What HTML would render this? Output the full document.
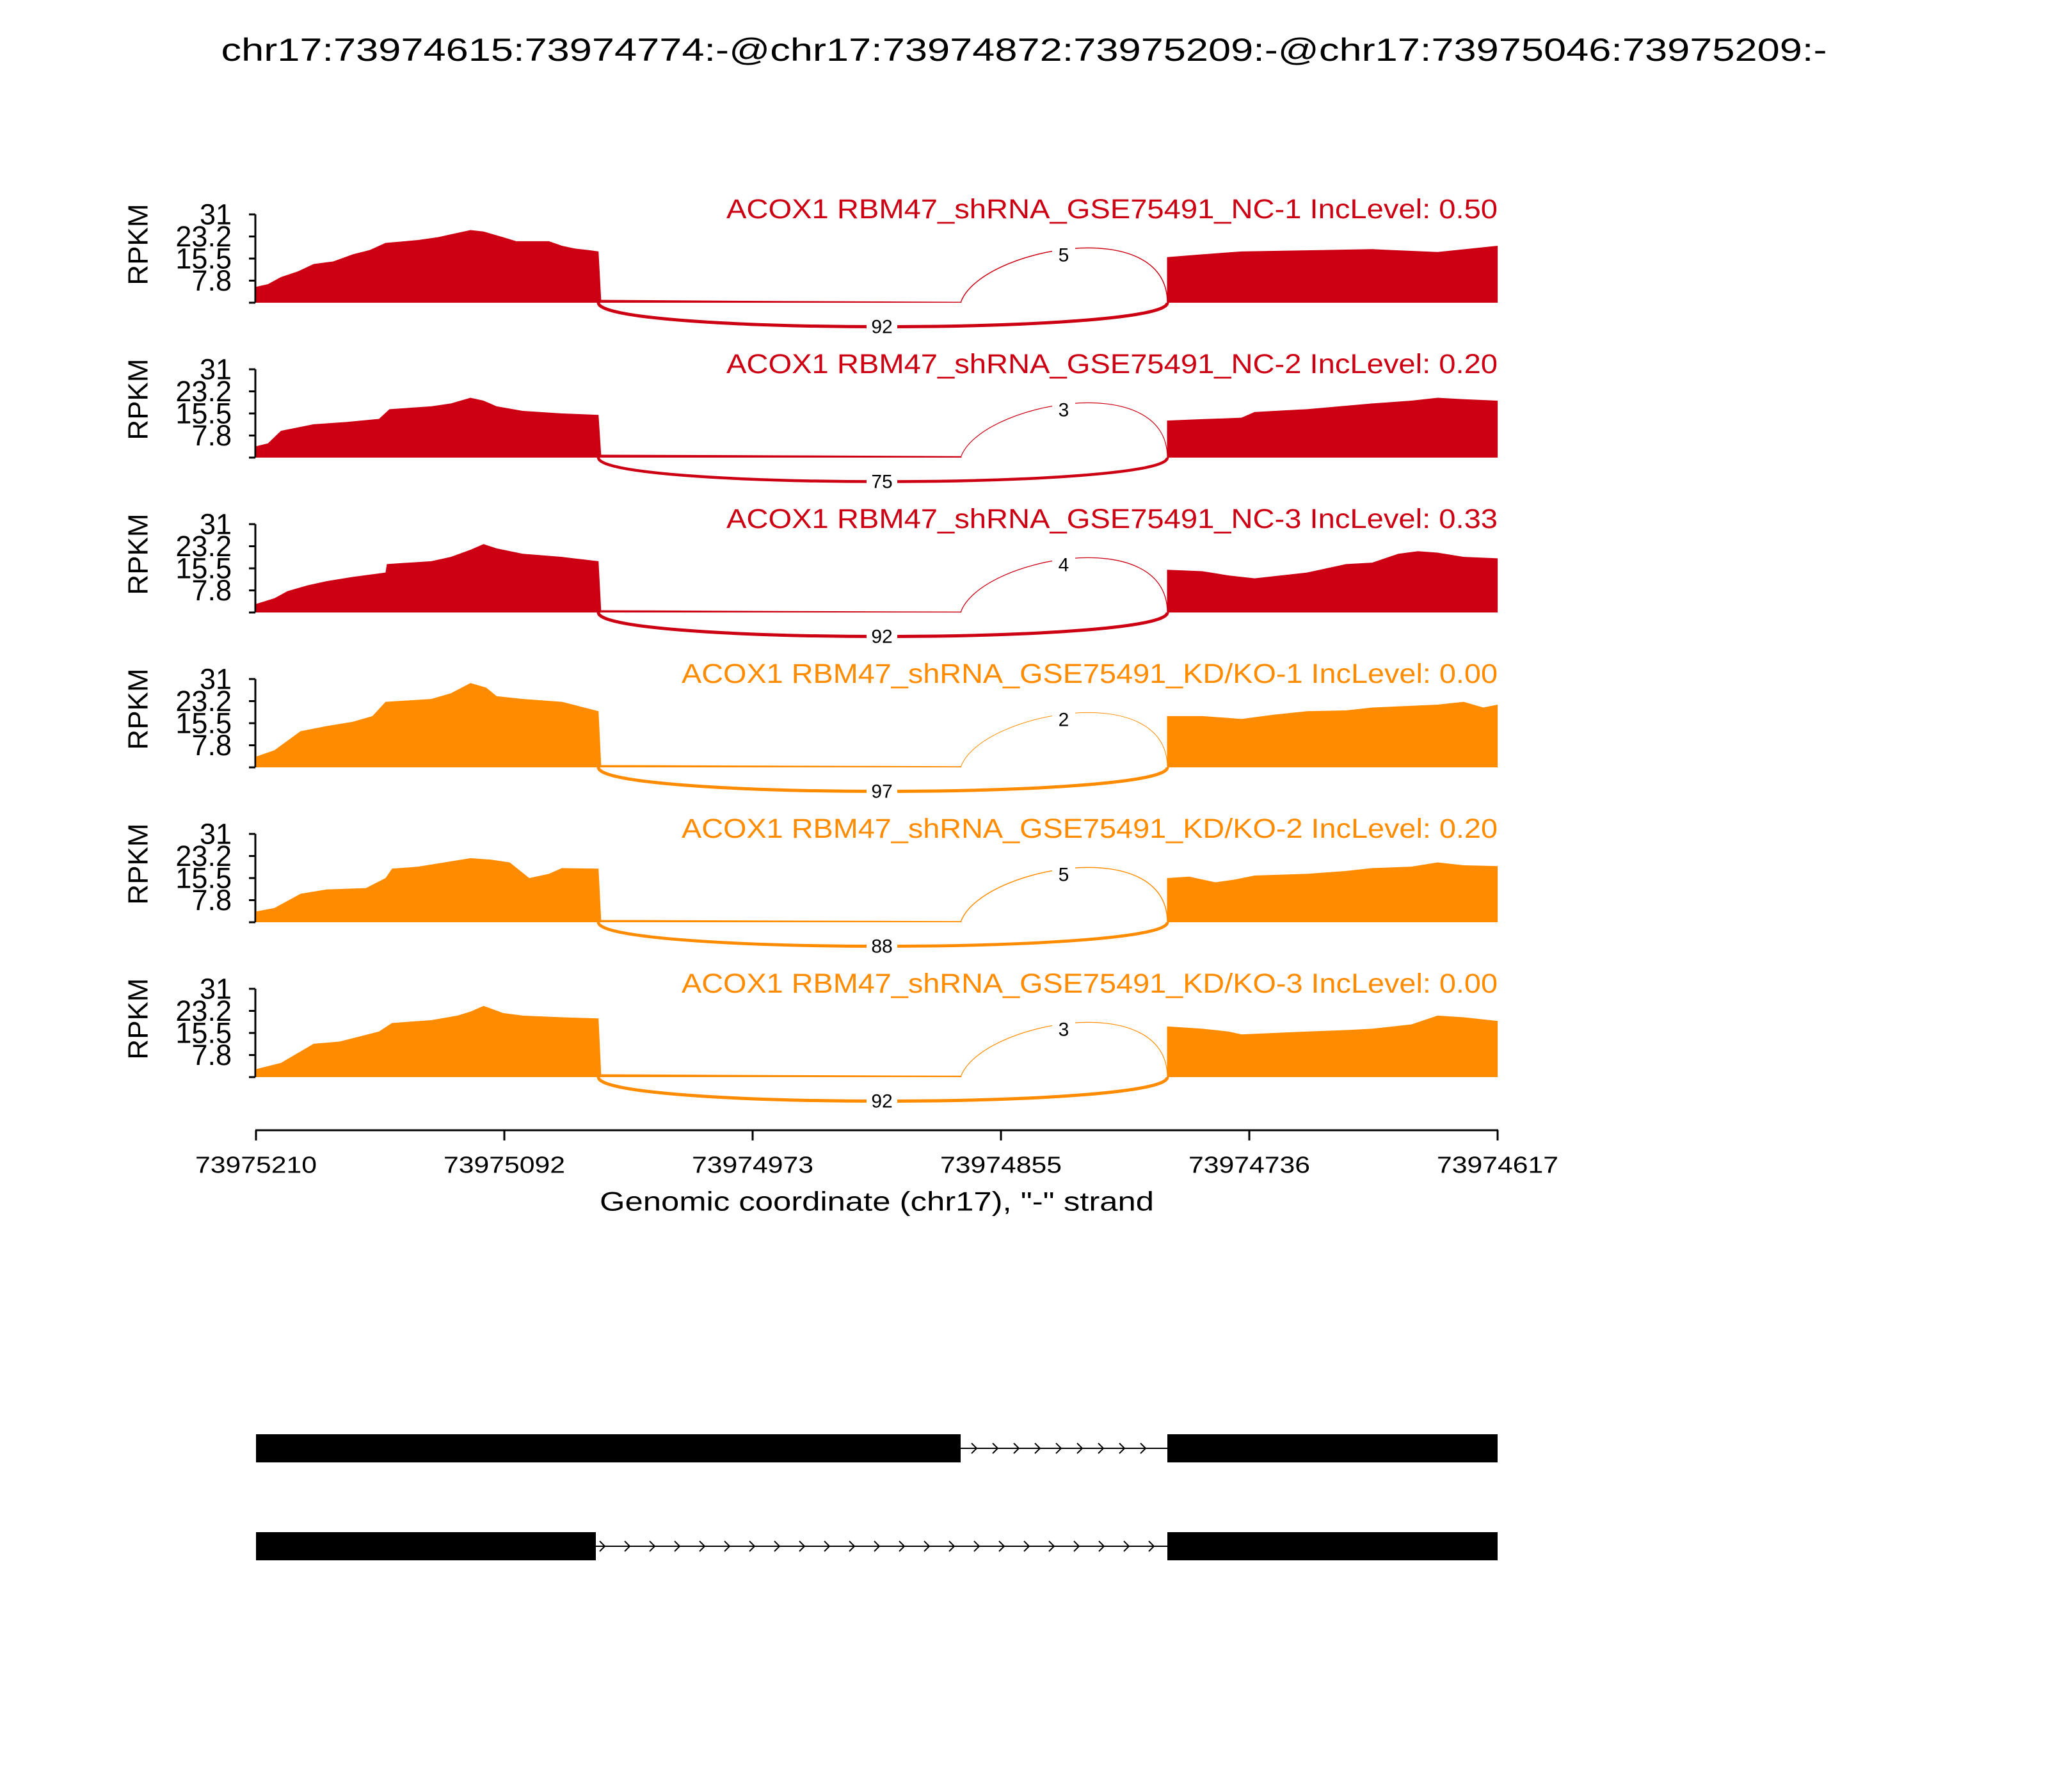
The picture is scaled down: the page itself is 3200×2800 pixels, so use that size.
<!DOCTYPE html>
<html><head><meta charset="utf-8"><style>
html,body{margin:0;padding:0;background:#fff}
svg{display:block}
text{font-family:"Liberation Sans","DejaVu Sans",sans-serif}
</style></head><body>
<svg width="3200" height="2800" viewBox="0 0 3200 2800" xmlns="http://www.w3.org/2000/svg">
<rect width="3200" height="2800" fill="#fff"/>
<text x="1600" y="78" font-size="50" text-anchor="middle" dominant-baseline="central" textLength="2509" lengthAdjust="spacingAndGlyphs">chr17:73974615:73974774:-@chr17:73974872:73975209:-@chr17:73975046:73975209:-</text>

<defs>
<g id="yaxis">
 <line x1="399" y1="-138" x2="399" y2="0" stroke="#000" stroke-width="3"/>
 <path d="M389,-138H399M389,-103.5H399M389,-69H399M389,-34.5H399M389,0H399" stroke="#000" stroke-width="3"/>
 <g font-size="45" text-anchor="end" dominant-baseline="central">
  <text x="362" y="-138">31</text><text x="362" y="-103.5">23.2</text><text x="362" y="-69">15.5</text><text x="362" y="-34.5">7.8</text>
 </g>
 <text transform="translate(216,-91) rotate(-90)" font-size="44" text-anchor="middle" dominant-baseline="central">RPKM</text>
</g>
</defs>

<!-- Panel 1 -->
<g transform="translate(0,473)">
 <use href="#yaxis"/>
 <polygon fill="#cc0012" transform="scale(2.042,4.452)" points="196,0 196,-5.6 205,-6.5 215,-9 228,-11 240,-13.6 255,-14.5 270,-17 283,-18.5 295,-21 320,-22 335,-23 345,-24 360,-25.5 370,-25 385,-23 395,-21.6 410,-21.6 420,-21.6 430,-20 440,-19 450,-18.5 458,-18 460,-1 600,-0.6 735,-0.3 736,0 893,0 893,-16 920,-17 950,-18 1000,-18.4 1050,-18.8 1100,-17.8 1146,-20 1146,0"/>
 <path d="M935,0 C935,50 1824,50 1824,0" fill="none" stroke="#cc0012" stroke-width="5"/>
 <path d="M1501,0 C1530,-85 1824,-140 1824,0" fill="none" stroke="#cc0012" stroke-width="1.5"/>
 <rect x="1354" y="20" width="48" height="36" fill="#fff"/><text x="1378" y="38" font-size="30" text-anchor="middle" dominant-baseline="central">92</text>
 <rect x="1644" y="-92" width="36" height="36" fill="#fff"/><text x="1662" y="-74" font-size="30" text-anchor="middle" dominant-baseline="central">5</text>
 <text x="2340" y="-146" font-size="43" fill="#cc0012" text-anchor="end" dominant-baseline="central" textLength="1205" lengthAdjust="spacingAndGlyphs">ACOX1 RBM47_shRNA_GSE75491_NC-1 IncLevel: 0.50</text>
</g>

<!-- Panel 2 -->
<g transform="translate(0,715)">
 <use href="#yaxis"/>
 <polygon fill="#cc0012" transform="scale(2.042,4.452)" points="196,0 196,-4 205,-5 215,-9.4 240,-11.7 265,-12.5 290,-13.6 298,-17 330,-18 345,-19 360,-21 370,-20 380,-18 400,-16.4 430,-15.5 458,-15 460,-1 600,-0.8 735,-0.5 736,0 893,0 893,-13 920,-13.5 950,-14 960,-16 1000,-17 1050,-19 1080,-20 1100,-21 1120,-20.5 1146,-20 1146,0"/>
 <path d="M935,0 C935,50 1824,50 1824,0" fill="none" stroke="#cc0012" stroke-width="4.5"/>
 <path d="M1501,0 C1530,-85 1824,-140 1824,0" fill="none" stroke="#cc0012" stroke-width="1.2"/>
 <rect x="1354" y="20" width="48" height="36" fill="#fff"/><text x="1378" y="38" font-size="30" text-anchor="middle" dominant-baseline="central">75</text>
 <rect x="1644" y="-92" width="36" height="36" fill="#fff"/><text x="1662" y="-74" font-size="30" text-anchor="middle" dominant-baseline="central">3</text>
 <text x="2340" y="-146" font-size="43" fill="#cc0012" text-anchor="end" dominant-baseline="central" textLength="1205" lengthAdjust="spacingAndGlyphs">ACOX1 RBM47_shRNA_GSE75491_NC-2 IncLevel: 0.20</text>
</g>

<!-- Panel 3 -->
<g transform="translate(0,957)">
 <use href="#yaxis"/>
 <polygon fill="#cc0012" transform="scale(2.042,4.452)" points="196,0 196,-3 210,-5 220,-7.5 235,-9.5 250,-11 270,-12.5 295,-14 296,-17 330,-18 345,-19.5 360,-22 370,-24 380,-22.5 400,-20.6 430,-19.5 458,-18 460,-0.8 600,-0.5 735,-0.3 736,0 893,0 893,-15 920,-14.5 940,-13 960,-12 980,-13 1000,-14 1030,-17 1050,-17.5 1070,-20.6 1085,-21.5 1100,-21 1120,-19.5 1146,-19 1146,0"/>
 <path d="M935,0 C935,50 1824,50 1824,0" fill="none" stroke="#cc0012" stroke-width="5"/>
 <path d="M1501,0 C1530,-85 1824,-140 1824,0" fill="none" stroke="#cc0012" stroke-width="1.3"/>
 <rect x="1354" y="20" width="48" height="36" fill="#fff"/><text x="1378" y="38" font-size="30" text-anchor="middle" dominant-baseline="central">92</text>
 <rect x="1644" y="-92" width="36" height="36" fill="#fff"/><text x="1662" y="-74" font-size="30" text-anchor="middle" dominant-baseline="central">4</text>
 <text x="2340" y="-146" font-size="43" fill="#cc0012" text-anchor="end" dominant-baseline="central" textLength="1205" lengthAdjust="spacingAndGlyphs">ACOX1 RBM47_shRNA_GSE75491_NC-3 IncLevel: 0.33</text>
</g>

<!-- Panel 4 -->
<g transform="translate(0,1199)">
 <use href="#yaxis"/>
 <polygon fill="#ff8c00" transform="scale(2.042,4.452)" points="196,0 196,-3.8 210,-6 230,-12.7 250,-14.5 270,-16 285,-18 295,-23 330,-24 345,-26 360,-29.6 372,-28 380,-25 400,-24 430,-23 458,-19.7 460,-0.8 600,-0.6 735,-0.4 736,0 893,0 893,-18 920,-18 950,-17 975,-18.5 1000,-19.7 1030,-20 1050,-21 1075,-21.5 1100,-22 1120,-23 1135,-21 1146,-22 1146,0"/>
 <path d="M935,0 C935,50 1824,50 1824,0" fill="none" stroke="#ff8c00" stroke-width="5"/>
 <path d="M1501,0 C1530,-85 1824,-140 1824,0" fill="none" stroke="#ff8c00" stroke-width="1"/>
 <rect x="1354" y="20" width="48" height="36" fill="#fff"/><text x="1378" y="38" font-size="30" text-anchor="middle" dominant-baseline="central">97</text>
 <rect x="1644" y="-92" width="36" height="36" fill="#fff"/><text x="1662" y="-74" font-size="30" text-anchor="middle" dominant-baseline="central">2</text>
 <text x="2340" y="-146" font-size="43" fill="#ff8c00" text-anchor="end" dominant-baseline="central" textLength="1275" lengthAdjust="spacingAndGlyphs">ACOX1 RBM47_shRNA_GSE75491_KD/KO-1 IncLevel: 0.00</text>
</g>

<!-- Panel 5 -->
<g transform="translate(0,1441)">
 <use href="#yaxis"/>
 <polygon fill="#ff8c00" transform="scale(2.042,4.452)" points="196,0 196,-3.8 210,-5 230,-10 250,-11.5 280,-12 295,-15.5 300,-18.8 320,-19.5 340,-21 360,-22.5 375,-22 390,-21 405,-15.5 420,-17 430,-19 458,-18.8 460,-0.8 600,-0.6 735,-0.4 736,0 893,0 893,-15.5 910,-16 930,-14 945,-15 960,-16.4 1000,-17 1030,-18 1050,-19 1080,-19.5 1100,-21 1120,-20 1146,-19.7 1146,0"/>
 <path d="M935,0 C935,50 1824,50 1824,0" fill="none" stroke="#ff8c00" stroke-width="4.8"/>
 <path d="M1501,0 C1530,-85 1824,-140 1824,0" fill="none" stroke="#ff8c00" stroke-width="1.5"/>
 <rect x="1354" y="20" width="48" height="36" fill="#fff"/><text x="1378" y="38" font-size="30" text-anchor="middle" dominant-baseline="central">88</text>
 <rect x="1644" y="-92" width="36" height="36" fill="#fff"/><text x="1662" y="-74" font-size="30" text-anchor="middle" dominant-baseline="central">5</text>
 <text x="2340" y="-146" font-size="43" fill="#ff8c00" text-anchor="end" dominant-baseline="central" textLength="1275" lengthAdjust="spacingAndGlyphs">ACOX1 RBM47_shRNA_GSE75491_KD/KO-2 IncLevel: 0.20</text>
</g>

<!-- Panel 6 -->
<g transform="translate(0,1683)">
 <use href="#yaxis"/>
 <polygon fill="#ff8c00" transform="scale(2.042,4.452)" points="196,0 196,-2.8 215,-5 240,-11.7 260,-12.5 290,-16 300,-19 330,-20 350,-21.6 360,-23 370,-25 385,-22.5 400,-21.6 430,-21 458,-20.6 460,-1 600,-0.7 735,-0.5 736,0 893,0 893,-17.8 920,-17 940,-16 950,-15 1000,-16 1030,-16.5 1050,-17 1080,-18.5 1100,-21.6 1120,-21 1146,-19.7 1146,0"/>
 <path d="M935,0 C935,50 1824,50 1824,0" fill="none" stroke="#ff8c00" stroke-width="5"/>
 <path d="M1501,0 C1530,-85 1824,-140 1824,0" fill="none" stroke="#ff8c00" stroke-width="1.2"/>
 <rect x="1354" y="20" width="48" height="36" fill="#fff"/><text x="1378" y="38" font-size="30" text-anchor="middle" dominant-baseline="central">92</text>
 <rect x="1644" y="-92" width="36" height="36" fill="#fff"/><text x="1662" y="-74" font-size="30" text-anchor="middle" dominant-baseline="central">3</text>
 <text x="2340" y="-146" font-size="43" fill="#ff8c00" text-anchor="end" dominant-baseline="central" textLength="1275" lengthAdjust="spacingAndGlyphs">ACOX1 RBM47_shRNA_GSE75491_KD/KO-3 IncLevel: 0.00</text>
</g>

<!-- X axis -->
<line x1="399" y1="1766" x2="2341" y2="1766" stroke="#000" stroke-width="3"/>
<path d="M400,1766V1782M788,1766V1782M1176,1766V1782M1564,1766V1782M1952,1766V1782M2340,1766V1782" stroke="#000" stroke-width="3"/>
<g font-size="36" text-anchor="middle" dominant-baseline="central">
 <text x="400" y="1820" textLength="190" lengthAdjust="spacingAndGlyphs">73975210</text>
 <text x="788" y="1820" textLength="190" lengthAdjust="spacingAndGlyphs">73975092</text>
 <text x="1176" y="1820" textLength="190" lengthAdjust="spacingAndGlyphs">73974973</text>
 <text x="1564" y="1820" textLength="190" lengthAdjust="spacingAndGlyphs">73974855</text>
 <text x="1952" y="1820" textLength="190" lengthAdjust="spacingAndGlyphs">73974736</text>
 <text x="2340" y="1820" textLength="190" lengthAdjust="spacingAndGlyphs">73974617</text>
</g>
<text x="1370" y="1877" font-size="42" text-anchor="middle" dominant-baseline="central" textLength="866" lengthAdjust="spacingAndGlyphs">Genomic coordinate (chr17), "-" strand</text>

<!-- Gene models -->
<rect x="400" y="2241" width="1101" height="44" fill="#000"/>
<rect x="1824" y="2241" width="516" height="44" fill="#000"/>
<line x1="1501" y1="2263" x2="1824" y2="2263" stroke="#000" stroke-width="2"/>
<g fill="none" stroke="#000" stroke-width="2">
 <path d="M1518,2255l8,8l-8,8M1551,2255l8,8l-8,8M1584,2255l8,8l-8,8M1617,2255l8,8l-8,8M1650,2255l8,8l-8,8M1683,2255l8,8l-8,8M1716,2255l8,8l-8,8M1749,2255l8,8l-8,8M1782,2255l8,8l-8,8"/>
</g>
<rect x="400" y="2394" width="531" height="44" fill="#000"/>
<rect x="1824" y="2394" width="516" height="44" fill="#000"/>
<line x1="931" y1="2416" x2="1824" y2="2416" stroke="#000" stroke-width="2"/>
<g fill="none" stroke="#000" stroke-width="2">
 <path d="M937,2408l8,8l-8,8M976,2408l8,8l-8,8M1015,2408l8,8l-8,8M1054,2408l8,8l-8,8M1093,2408l8,8l-8,8M1132,2408l8,8l-8,8M1171,2408l8,8l-8,8M1210,2408l8,8l-8,8M1249,2408l8,8l-8,8M1288,2408l8,8l-8,8M1327,2408l8,8l-8,8M1366,2408l8,8l-8,8M1405,2408l8,8l-8,8M1444,2408l8,8l-8,8M1483,2408l8,8l-8,8M1522,2408l8,8l-8,8M1561,2408l8,8l-8,8M1600,2408l8,8l-8,8M1639,2408l8,8l-8,8M1678,2408l8,8l-8,8M1717,2408l8,8l-8,8M1756,2408l8,8l-8,8M1795,2408l8,8l-8,8"/>
</g>
</svg>
</body></html>
